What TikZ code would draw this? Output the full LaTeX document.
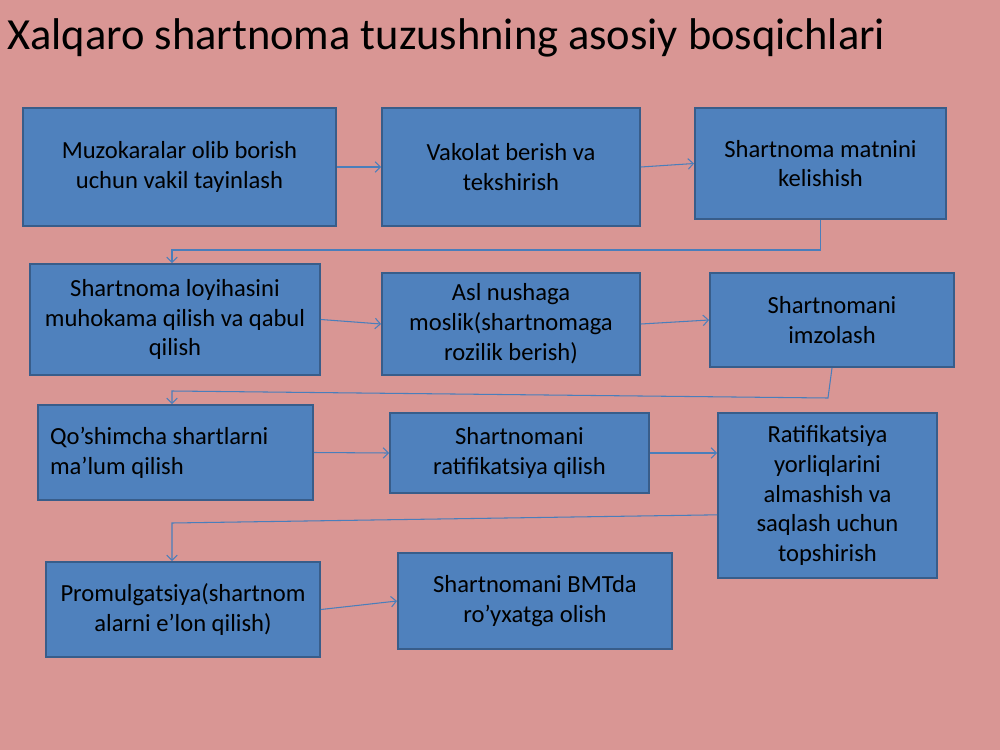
\documentclass[tikz,border=0pt]{standalone}
\usepackage{fontspec}
\setmainfont{Carlito}
\usetikzlibrary{arrows.meta}
\definecolor{slidebg}{HTML}{D99694}
\definecolor{boxfill}{HTML}{4F81BD}
\definecolor{boxline}{HTML}{385D8A}
\definecolor{connline}{HTML}{4A7EBB}
\begin{document}
\begin{tikzpicture}[x=0.02cm, y=-0.02cm,
    stage/.style={draw=boxline, fill=boxfill, line width=1.1pt, inner sep=0pt,
      align=center, font=\fontsize{14}{17}\selectfont},
    conn/.style={draw=connline, line width=0.6pt, -{Straight Barb[length=3pt,width=6pt]}}]
              \fill[slidebg] (0,0) rectangle (1000,750);
              \useasboundingbox (0,0) rectangle (1000,750);

              \node[anchor=base west, inner sep=0pt, font=\fontsize{25.3}{30}\selectfont] (title) at (7,50)
                {Xalqaro shartnoma tuzushning asosiy bosqichlari};

              % Stages
              \node[stage, minimum width=6.26cm, minimum height=2.36cm] (muzokara) at (179.5,167)
                {Muzokaralar olib borish\\uchun vakil tayinlash};
              \node[stage, minimum width=5.16cm, minimum height=2.36cm] (vakolat) at (511,167)
                {Vakolat berish va\\tekshirish};
              \node[stage, minimum width=5.02cm, minimum height=2.22cm] (matn) at (820.5,163.5)
                {Shartnoma matnini\\kelishish};
              \node[stage, minimum width=5.8cm, minimum height=2.22cm] (loyiha) at (175,319.5)
                {Shartnoma loyihasini\\muhokama qilish va qabul\\qilish};
              \node[stage, minimum width=5.16cm, minimum height=2.04cm] (asl) at (511,324)
                {Asl nushaga\\moslik(shartnomaga\\rozilik berish)};
              \node[stage, minimum width=4.88cm, minimum height=1.88cm] (imzo) at (832,320)
                {Shartnomani\\imzolash};
              \node[stage, align=flush left, text width=5.02cm, inner xsep=0.24cm, minimum height=1.9cm] (qoshimcha) at (175.5,452.5)
                {Qo’shimcha shartlarni\\ma’lum qilish};
              \node[stage, minimum width=5.18cm, minimum height=1.6cm] (ratifik) at (519.5,453)
                {Shartnomani\\ratifikatsiya qilish};
              \node[stage, minimum width=4.38cm, minimum height=3.3cm] (yorliq) at (827.5,495.5)
                {Ratifikatsiya\\yorliqlarini\\almashish va\\saqlash uchun\\topshirish};
              \node[stage, minimum width=5.48cm, minimum height=1.9cm] (promul) at (183,609.5)
                {Promulgatsiya(shartnom\\alarni e’lon qilish)};
              \node[stage, minimum width=5.48cm, minimum height=1.92cm] (bmt) at (535,601)
                {Shartnomani BMTda\\ro’yxatga olish};

              % Bends
              \coordinate (k1) at (820.5,250);
              \coordinate (k2) at (172,250);
              \coordinate (k3) at (828,398);
              \coordinate (k4) at (172,391);
              \coordinate (k5) at (172,523);

              % Connectors
              \draw[conn] (muzokara.east) -- (vakolat.west);
              \draw[conn] (vakolat.east) -- (matn.west);
              \draw[conn] (matn.south) -- (k1) -- (k2) -- (k2 |- loyiha.north);
              \draw[conn] (loyiha.east) -- (asl.west);
              \draw[conn] (asl.east) -- (imzo.west);
              \draw[conn] (imzo.south) -- (k3) -- (k4) -- (k4 |- qoshimcha.north);
              \draw[conn] (qoshimcha.east) -- (ratifik.west);
              \draw[conn] (ratifik.east) -- (ratifik.east -| yorliq.west);
              \draw[conn] ([yshift=-11pt]yorliq.west) -- (k5) -- (k5 |- promul.north);
              \draw[conn] (promul.east) -- (bmt.west);
\end{tikzpicture}
\end{document}
